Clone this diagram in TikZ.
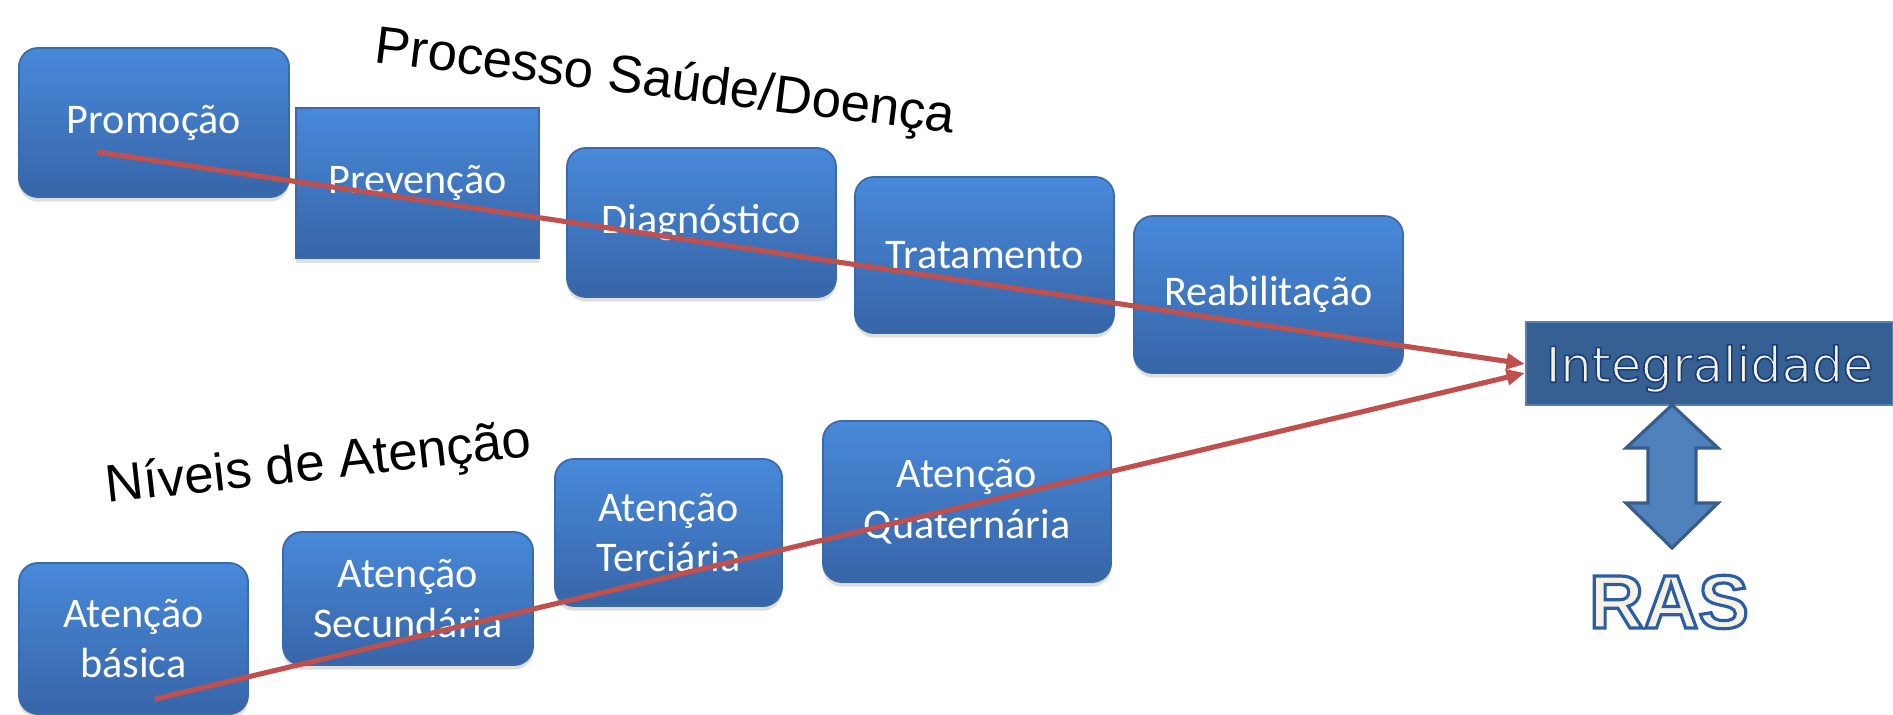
\documentclass[tikz,border=0pt]{standalone}
\usepackage{fontspec}
\setmainfont{Carlito}
\newfontfamily\boxfont{Carlito}
\newfontfamily\titlefont{Liberation Sans}
\newfontfamily\integfont{DejaVu Sans}
\newfontfamily\rasfont{Liberation Sans}
\usetikzlibrary{arrows.meta,shadows,calc}
\definecolor{boxtop}{HTML}{4889DA}
\definecolor{boxbot}{HTML}{3765A8}
\definecolor{boxedge}{HTML}{3A6AA8}
\definecolor{arrowred}{HTML}{C0504D}
\definecolor{integblue}{HTML}{376092}
\definecolor{integedge}{HTML}{5A80B0}
\definecolor{dblfill}{HTML}{4F81BD}
\definecolor{dbledge}{HTML}{385D8A}
\definecolor{cream}{HTML}{F6F3E4}
\newcommand{\strokedtext}[3]{\special{pdf:literal direct 2 Tr #2 w #1 RG}#3\special{pdf:literal direct 0 Tr}}
\tikzset{
  blockbox/.style={rectangle, rounded corners=0.19cm, inner sep=0pt,
    top color=boxtop, bottom color=boxbot, draw=boxedge, line width=0.5pt,
    text=white, font=\boxfont\fontsize{12}{14.4}\selectfont, align=center,
    drop shadow={shadow xshift=0pt, shadow yshift=-1.3pt, opacity=0.25}},
  squarebox/.style={blockbox, sharp corners},
  titletext/.style={anchor=base west, inner sep=0pt, text=black,
    font=\titlefont\fontsize{15}{18}\selectfont},
  redarrow/.style={draw=arrowred, line width=1.45pt,
    -{Triangle[length=5.2pt,width=4.4pt]}},
}
\begin{document}
\begin{tikzpicture}[x=0.01cm, y=-0.01cm]
\useasboundingbox (0,0) rectangle (1893,714);

% titles
\node[titletext, rotate=-7] (t1) at (373,62) {Processo Saúde/Doença};
\node[titletext, rotate=6.3] (t2) at (107,503) {Níveis de Atenção};

% upper row
\node[blockbox, minimum width=2.70cm, minimum height=1.49cm] (prom) at (154,122.5) {Promoção};
\node[squarebox, minimum width=2.43cm, minimum height=1.50cm] (prev) at (417.5,183) {Prevenção};
\node[blockbox, minimum width=2.69cm, minimum height=1.49cm] (diag) at (701.5,222.5) {Diagnóstico};
\node[blockbox, minimum width=2.59cm, minimum height=1.56cm] (trat) at (984.5,255) {Tratamento};
\node[blockbox, minimum width=2.69cm, minimum height=1.57cm] (reab) at (1268.5,294.5) {Reabilitação};

% lower row
\node[blockbox, minimum width=2.29cm, minimum height=1.51cm] (basica) at (133.5,638.5) {Atenção\\básica};
\node[blockbox, minimum width=2.50cm, minimum height=1.33cm] (sec) at (408,598.5) {Atenção\\Secundária};
\node[blockbox, minimum width=2.27cm, minimum height=1.47cm] (terc) at (668.5,532.5) {Atenção\\Terciária};
\node[blockbox, minimum width=2.88cm, minimum height=1.61cm] (quat) at (967,501.5) {Atenção\\Quaternária};

% Integralidade
\node[rectangle, fill=integblue, draw=integedge, line width=0.6pt,
  minimum width=3.67cm, minimum height=0.83cm, inner sep=0pt, text depth=0pt,
  text=cream, font=\integfont\fontsize{14}{16}\selectfont] (integ) at (1709.5,363.5)
  {\strokedtext{0.10 0.24 0.47}{0.45}{Integralidade}};

% red connectors
\coordinate (s1) at (97,152);
\coordinate (s2) at (155,699);
\coordinate (e1) at ($(integ.west)+(0,0.5)$);
\coordinate (e2) at ($(integ.west)+(0,9.5)$);
\draw[redarrow] (s1) -- (e1);
\draw[redarrow] (s2) -- (e2);

% double block arrow
\draw[fill=dblfill, draw=dbledge, line width=0.9pt, line join=miter]
  (1672,405) -- (1718,448) -- (1696,448) -- (1696,503) -- (1718,503) -- (1672,548)
  -- (1626,503) -- (1648,503) -- (1648,448) -- (1626,448) -- cycle;

% RAS
\node[anchor=base, inner sep=0pt, text=cream,
  font=\rasfont\bfseries\fontsize{21.5}{24}\selectfont] (ras) at (1669,628)
  {\strokedtext{0.17 0.36 0.65}{0.9}{RAS}};
\end{tikzpicture}
\end{document}
